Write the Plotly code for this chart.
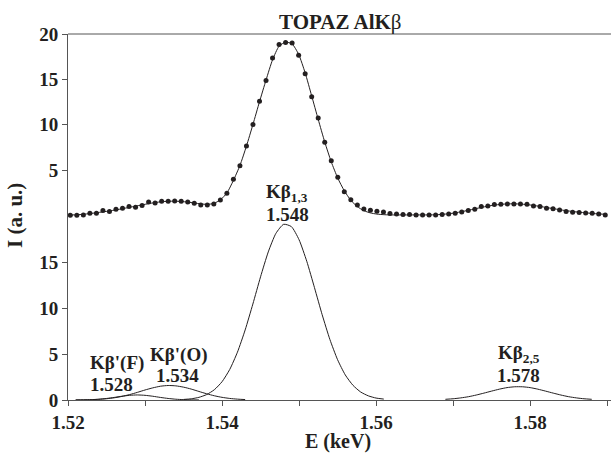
import numpy as np
import plotly.graph_objects as go

# ---------------- data ----------------
# measured points (top panel), evenly spaced in energy
E_START = 1.5203
E_STEP = 0.000847
meas_I = [0.00, 0.00, 0.03, 0.22, 0.22, 0.51, 0.40, 0.66, 0.77, 0.95,
          0.88, 1.06, 1.47, 1.36, 1.54, 1.54, 1.58, 1.54, 1.47, 1.32,
          1.14, 1.14, 1.25, 1.69, 2.43, 3.97, 5.47, 7.65, 10.04, 12.6,
          14.9, 17.4, 18.9, 19.1, 19.05, 17.7, 15.65, 13.1, 10.75, 8.06,
          6.03, 4.19, 2.60, 1.72, 1.14, 0.68, 0.55, 0.44, 0.34, 0.18,
          0.12, 0.07, 0.07, 0.03, 0.03, 0.03, 0.03, 0.07, 0.14, 0.22,
          0.36, 0.51, 0.66, 0.95, 1.03, 1.17, 1.21, 1.25, 1.25, 1.25,
          1.21, 1.03, 0.95, 0.77, 0.70, 0.58, 0.40, 0.33, 0.29, 0.25,
          0.22, 0.14, 0.03]
# fitted envelope (top panel), same energies
fit_I = [0.02, 0.05, 0.10, 0.18, 0.27, 0.37, 0.47, 0.59, 0.72, 0.86,
         1.00, 1.14, 1.28, 1.40, 1.49, 1.54, 1.55, 1.52, 1.45, 1.35,
         1.25, 1.20, 1.30, 1.70, 2.45, 3.85, 5.50, 7.65, 10.05, 12.55,
         14.95, 17.2, 18.7, 19.15, 18.95, 17.8, 15.75, 13.2, 10.6, 8.1,
         5.9, 4.1, 2.7, 1.65, 0.95, 0.50, 0.25, 0.12, 0.06, 0.03,
         0.03, 0.03, 0.03, 0.03, 0.03, 0.03, 0.05, 0.09, 0.16, 0.26,
         0.39, 0.54, 0.70, 0.86, 1.00, 1.12, 1.20, 1.25, 1.26, 1.23,
         1.17, 1.08, 0.97, 0.85, 0.73, 0.61, 0.50, 0.41, 0.33, 0.26,
         0.20, 0.14, 0.10]

# components (bottom panel), sampled every 0.001 keV
COMP_STEP = 0.001
F_start = 1.521
F_I = [0.005, 0.015, 0.038, 0.086, 0.168, 0.28, 0.41, 0.51, 0.55, 0.51,
       0.41, 0.28, 0.168, 0.086, 0.038, 0.015, 0.005]
O_start = 1.521
O_I = [0.007, 0.016, 0.035, 0.072, 0.136, 0.24, 0.39, 0.59, 0.83, 1.09,
       1.32, 1.50, 1.58, 1.54, 1.40, 1.19, 0.93, 0.68, 0.46, 0.29,
       0.17, 0.094, 0.048]
B13_start = 1.535
B13_I = [0.06, 0.13, 0.29, 0.59, 1.12, 1.99, 3.33, 5.21, 7.63, 10.45,
         13.42, 16.13, 18.16, 19.14, 18.89, 17.46, 15.11, 12.24, 9.29, 6.60,
         4.39, 2.73, 1.60, 0.87, 0.45, 0.21, 0.10]
B25_start = 1.569
B25_I = [0.075, 0.135, 0.23, 0.36, 0.54, 0.75, 0.97, 1.18, 1.35, 1.44,
         1.44, 1.35, 1.18, 0.97, 0.75, 0.54, 0.36, 0.23, 0.135, 0.075]

x_tickvals = [1.52, 1.54, 1.56, 1.58]
x_ticktext = ['1.52', '1.54', '1.56', '1.58']
x_minor_step = 0.01
y_bottom_ticks = [0, 5, 10, 15]
y_top_ticks = [5, 10, 15, 20]

labels = [
    ("Kβ<sub>1,3</sub>", 1.54844, 22.6),
    ("1.548", 1.54844, 20.2),
    ("Kβ'(F)", 1.5263, 4.0),
    ("1.528", 1.5257, 1.7),
    ("Kβ'(O)", 1.5344, 4.95),
    ("1.534", 1.5342, 2.65),
    ("Kβ<sub>2,5</sub>", 1.5786, 5.05),
    ("1.578", 1.5785, 2.65),
]

# ---------------- figure ----------------
def grid(start, step, n):
    return [round(start + step * i, 6) for i in range(n)]

E_meas = grid(E_START, E_STEP, len(meas_I))
FONT = "Liberation Serif, Times New Roman, serif"
INK = "#231f20"
AX = "#555555"

fig = go.Figure()
line_style = dict(color=INK, width=1, shape="spline", smoothing=0.6)

fig.add_trace(go.Scatter(x=E_meas, y=fit_I, mode="lines", line=line_style,
                         yaxis="y2", showlegend=False, hoverinfo="skip"))
fig.add_trace(go.Scatter(x=E_meas, y=meas_I, mode="markers",
                         marker=dict(color=INK, size=5), yaxis="y2",
                         showlegend=False))
for start, vals in [(F_start, F_I), (O_start, O_I), (B13_start, B13_I), (B25_start, B25_I)]:
    fig.add_trace(go.Scatter(x=grid(start, COMP_STEP, len(vals)), y=vals, mode="lines",
                             line=line_style, yaxis="y", showlegend=False))

tickfont = dict(family=FONT, size=19, color=INK, weight="bold")

fig.update_layout(
    width=611, height=454,
    margin=dict(l=68, r=0, t=34, b=54),
    paper_bgcolor="white", plot_bgcolor="white",
    xaxis=dict(range=[1.52, 1.5905], tickvals=x_tickvals, ticktext=x_ticktext,
               ticks="outside", ticklen=5, tickcolor=AX, showline=True, linecolor=AX,
               linewidth=1, showgrid=False, zeroline=False,
               minor=dict(tick0=x_tickvals[0], dtick=x_minor_step, ticks="outside",
                          ticklen=5, tickcolor=AX, showgrid=False),
               tickfont=tickfont),
    yaxis=dict(range=[0, 39.87], tickvals=y_bottom_ticks, ticks="outside", ticklen=5,
               tickcolor=AX, showline=True, linecolor=AX, linewidth=1, showgrid=False,
               zeroline=False, tickfont=tickfont),
    yaxis2=dict(range=[-20.45, 20.05], tickvals=y_top_ticks, overlaying="y", side="left",
                ticks="outside", ticklen=5, tickcolor=AX, showline=False, showgrid=False,
                zeroline=False, tickfont=tickfont),
    shapes=[dict(type="line", xref="paper", yref="paper", x0=0, x1=1, y0=1, y1=1,
                 line=dict(color=AX, width=1))],
)

ann = []
for txt, xv, yv in labels:
    ann.append(dict(text=txt, x=xv, y=yv, xref="x", yref="y", showarrow=False,
                    xanchor="center", yanchor="middle",
                    font=dict(family=FONT, size=19, color=INK, weight="bold")))
ann.append(dict(text="<b>TOPAZ AlK</b>β", x=(340 - 68) / 543, y=(400 - 22) / 366,
                xref="paper", yref="paper", showarrow=False, xanchor="center",
                yanchor="middle", font=dict(family=FONT, size=21, color=INK)))
ann.append(dict(text="E (keV)", x=(338 - 68) / 543, y=(400 - 442) / 366,
                xref="paper", yref="paper", showarrow=False, xanchor="center",
                yanchor="middle", font=dict(family=FONT, size=20, color=INK, weight="bold")))
ann.append(dict(text="I (a. u.)", x=(15 - 68) / 543, y=(400 - 216) / 366,
                xref="paper", yref="paper", showarrow=False, xanchor="center",
                yanchor="middle", textangle=-90,
                font=dict(family=FONT, size=21, color=INK, weight="bold")))
fig.update_layout(annotations=ann)

fig.write_html("out.html", config={"displayModeBar": False},
               post_script="document.body.style.margin='0';document.body.style.overflow='hidden';")
